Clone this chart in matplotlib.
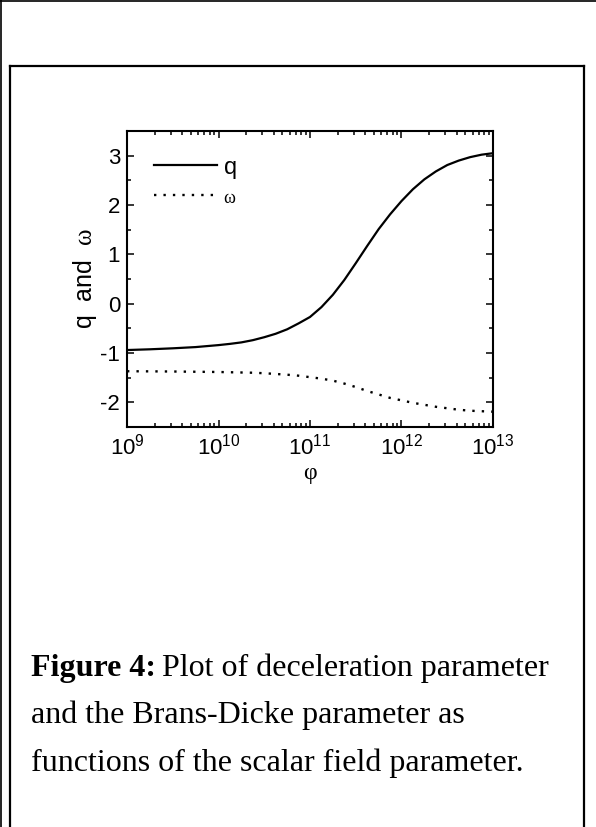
import numpy as np
import matplotlib
matplotlib.use('Agg')
import matplotlib.pyplot as plt
from matplotlib.lines import Line2D
from matplotlib.ticker import LogLocator, MultipleLocator, NullFormatter

plt.rcParams['font.family'] = ['Liberation Sans', 'DejaVu Sans']
plt.rcParams['mathtext.fontset'] = 'custom'
plt.rcParams['mathtext.rm'] = 'Liberation Sans'
plt.rcParams['mathtext.sf'] = 'Liberation Serif'
plt.rcParams['axes.unicode_minus'] = False

# values (exponent of phi)
phi_exp = [9.0, 9.25, 9.5, 9.75, 10.0, 10.125, 10.25, 10.375, 10.5, 10.625, 10.75,
           10.875, 11.0, 11.125, 11.25, 11.375, 11.5, 11.625, 11.75, 11.875,
           12.0, 12.125, 12.25, 12.375, 12.5, 12.625, 12.75, 12.875, 13.0]
q_vals = [-0.94, -0.925, -0.905, -0.88, -0.84, -0.815, -0.785, -0.74, -0.68, -0.61,
          -0.52, -0.40, -0.27, -0.07, 0.18, 0.48, 0.82, 1.17, 1.51, 1.81,
          2.08, 2.32, 2.52, 2.68, 2.81, 2.90, 2.97, 3.02, 3.05]
w_vals = [-1.37, -1.372, -1.375, -1.38, -1.385, -1.39, -1.395, -1.40, -1.41, -1.425,
          -1.44, -1.46, -1.49, -1.52, -1.56, -1.62, -1.69, -1.77, -1.84, -1.91,
          -1.96, -2.01, -2.05, -2.09, -2.12, -2.15, -2.17, -2.18, -2.19]

phi = 10.0 ** np.array(phi_exp)

W, H = 596, 827
fig = plt.figure(figsize=(W / 100, H / 100), dpi=100)

# frames around the figure cell
def px_line(x0, y0, x1, y1, lw):
    fig.add_artist(Line2D([x0 / W, x1 / W], [1 - y0 / H, 1 - y1 / H],
                          transform=fig.transFigure, color='black', lw=lw))

px_line(0.7, 0, 0.7, H, 1.2)
px_line(0, 0.7, W, 0.7, 1.2)
px_line(9.5, 66, 583.5, 66, 1.6)
px_line(9.5, 66, 9.5, H, 1.6)
px_line(583.5, 66, 583.5, H, 1.6)

left, right, top, bottom = 127, 493, 131, 427
ax = fig.add_axes([left / W, 1 - bottom / H, (right - left) / W, (bottom - top) / H])

ax.plot(phi, q_vals, color='black', lw=1.6, label='q')
ax.plot(phi, w_vals, color='black', lw=1.7, linestyle=(0, (1, 3)), label='ω')

ax.set_xscale('log')
ax.set_xlim(1e9, 1e13)
ax.set_ylim(-2.5, 3.5)
ax.xaxis.set_major_locator(LogLocator(base=10, numticks=10))
ax.xaxis.set_minor_locator(LogLocator(base=10, subs=np.arange(2, 10), numticks=20))
ax.xaxis.set_minor_formatter(NullFormatter())
ax.yaxis.set_major_locator(MultipleLocator(1))
ax.yaxis.set_minor_locator(MultipleLocator(0.5))

for s in ax.spines.values():
    s.set_linewidth(1.5)
ax.tick_params(which='both', direction='in', top=True, right=True, width=1.1,
               labelsize=16, pad=5)
ax.tick_params(which='major', length=5)
ax.tick_params(which='minor', length=3)

ax.set_xlabel('φ', family='Liberation Serif', fontsize=17, labelpad=2)
ax.set_ylabel(r'q  and  $\mathsf{\omega}$', fontsize=18, labelpad=1)

leg = ax.legend(loc='upper left', bbox_to_anchor=(0.017, 0.985), frameon=False,
                handlelength=2.63, handletextpad=0.3, labelspacing=0.35, fontsize=17)
leg.get_texts()[1].set_fontfamily('Liberation Serif')
leg.get_texts()[1].set_fontsize(13)

# caption
cap_size = 23
x0 = 31 / W
t1 = fig.text(x0, 1 - 676 / H, 'Figure 4:', family='Liberation Serif',
              weight='bold', fontsize=cap_size, va='baseline')
fig.canvas.draw()
bb = t1.get_window_extent(renderer=fig.canvas.get_renderer())
fig.text(bb.x1 / W + 6 / W, 1 - 676 / H, 'Plot of deceleration parameter',
         family='Liberation Serif', fontsize=cap_size, va='baseline')
fig.text(x0, 1 - 723.5 / H, 'and the Brans-Dicke parameter as',
         family='Liberation Serif', fontsize=cap_size, va='baseline')
fig.text(x0, 1 - 771 / H, 'functions of the scalar field parameter.',
         family='Liberation Serif', fontsize=cap_size, va='baseline')

fig.savefig('out.png', dpi=100)
